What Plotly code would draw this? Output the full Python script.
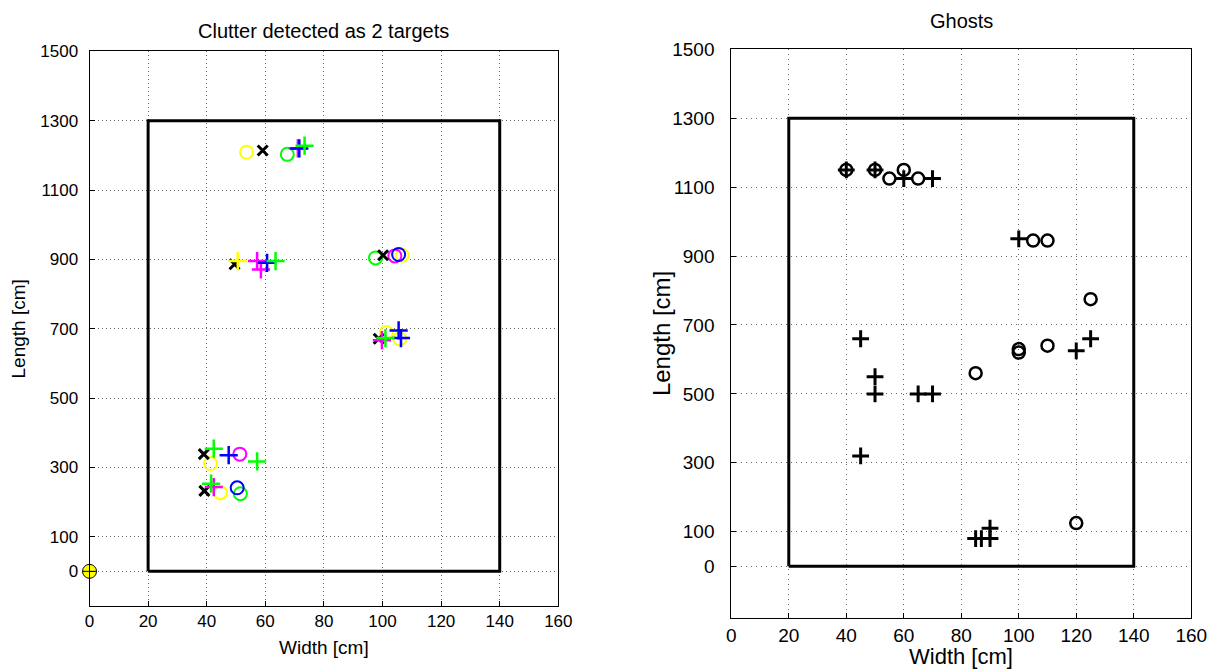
import plotly.graph_objects as go

# ---------------- Left chart data ----------------
rect_x = [20, 140, 140, 20, 20]
rect_y = [0, 0, 1300, 1300, 0]

yellow_o_x = [53.6, 41.3, 44.7, 101.3, 105.9, 106.7]
yellow_o_y = [1209, 311, 227, 689, 671, 912]
yellow_plus_x = [50.6]
yellow_plus_y = [895]
black_x_x = [59.1, 49.5, 100.2, 98.7, 39.0, 39.2]
black_x_y = [1214, 886, 912, 671, 338, 232]
green_o_x = [67.5, 97.6, 51.5]
green_o_y = [1203, 904, 224]
green_plus_x = [73.4, 63.5, 42.4, 57.2, 41.5, 101.0]
green_plus_y = [1228, 895, 354, 317, 253, 673]
magenta_plus_x = [71.1, 57.2, 58.5, 99.8, 42.4]
magenta_plus_y = [1220, 895, 871, 667, 243]
magenta_o_x = [104.2, 51.3]
magenta_o_y = [910, 338]
blue_plus_x = [71.6, 60.6, 47.5, 105.5, 106.3]
blue_plus_y = [1220, 890, 335, 695, 673]
blue_o_x = [105.5, 50.4]
blue_o_y = [914, 241]
origin_x = [0]
origin_y = [0]

left_xticks = [0, 20, 40, 60, 80, 100, 120, 140, 160]
left_yticks = [0, 100, 300, 500, 700, 900, 1100, 1300, 1500]

# ---------------- Right chart data ----------------
ghost_o_x = [40, 50, 55, 60, 65, 105, 110, 125, 100, 100, 110, 85, 120]
ghost_o_y = [1150, 1150, 1125, 1150, 1125, 945, 945, 775, 630, 620, 640, 560, 125]
ghost_plus_x = [40, 50, 60, 70, 100, 45, 50, 50, 65, 70, 45, 120, 125, 85, 87, 90, 90]
ghost_plus_y = [1150, 1150, 1125, 1125, 950, 660, 550, 500, 500, 500, 320, 625, 660, 80, 80, 80, 110]

right_xticks = [0, 20, 40, 60, 80, 100, 120, 140, 160]
right_yticks = [0, 100, 300, 500, 700, 900, 1100, 1300, 1500]

W, H = 1221, 672
FONT = "Liberation Sans, Arial, sans-serif"

fig = go.Figure()

def add(x, y, sym, color, size, lw, xa="x", ya="y", fill=None, clip=True):
    fig.add_trace(go.Scatter(
        x=x, y=y, mode="markers", xaxis=xa, yaxis=ya, showlegend=False,
        hoverinfo="skip", cliponaxis=clip,
        marker=dict(symbol=sym, size=size, color=fill if fill else color,
                    line=dict(color=color, width=lw))))

# Left rectangle
fig.add_trace(go.Scatter(x=rect_x, y=rect_y, mode="lines", xaxis="x", yaxis="y",
                         line=dict(color="black", width=3), showlegend=False, hoverinfo="skip"))
add(green_o_x, green_o_y, "circle-open", "#00ff00", 13, 2)
add(yellow_o_x, yellow_o_y, "circle-open", "#ffff00", 13, 2)
add(magenta_o_x, magenta_o_y, "circle-open", "#ff00ff", 13, 2)
add(blue_o_x, blue_o_y, "circle-open", "#0000ff", 13, 2)
add(black_x_x, black_x_y, "x-thin-open", "black", 10, 3)
add(yellow_plus_x, yellow_plus_y, "cross-thin-open", "#ffff00", 13, 2.5)
add(magenta_plus_x, magenta_plus_y, "cross-thin-open", "#ff00ff", 13, 2.5)
add(blue_plus_x, blue_plus_y, "cross-thin-open", "#0000ff", 13, 2.5)
add(green_plus_x, green_plus_y, "cross-thin-open", "#00ff00", 13, 2.5)
add(origin_x, origin_y, "circle-cross", "black", 14, 1, fill="#ffff00", clip=False)

# Right rectangle
fig.add_trace(go.Scatter(x=rect_x, y=rect_y, mode="lines", xaxis="x2", yaxis="y2",
                         line=dict(color="black", width=3), showlegend=False, hoverinfo="skip"))
add(ghost_o_x, ghost_o_y, "circle-open", "black", 12, 2.5, "x2", "y2")
add(ghost_plus_x, ghost_plus_y, "cross-thin-open", "black", 12, 3, "x2", "y2")

def ax_common(size, dash, standoff=0):
    return dict(showline=True, mirror=True, linecolor="black", linewidth=1,
                ticks="inside", ticklen=5, tickcolor="black",
                showgrid=True, gridcolor="#666666", griddash=dash, gridwidth=1,
                zeroline=False, ticklabelstandoff=standoff,
                tickfont=dict(family=FONT, size=size, color="black"))

lx0, lx1, ly0, ly1 = 86, 563, 42, 605
rx0, rx1, ry0, ry1 = 739, 1207, 40, 617

fig.update_layout(
    width=W, height=H, margin=dict(l=0, r=0, t=0, b=0),
    paper_bgcolor="white", plot_bgcolor="white",
    xaxis=dict(domain=[lx0 / W, lx1 / W], range=[0, 160], tickvals=left_xticks,
               anchor="y", **ax_common(17, "1px,3px")),
    yaxis=dict(domain=[1 - ly1 / H, 1 - ly0 / H], range=[-100, 1500], tickvals=left_yticks,
               anchor="x", **ax_common(17, "1px,3px", 7)),
    xaxis2=dict(domain=[rx0 / W, rx1 / W], range=[0, 160], tickvals=right_xticks,
                anchor="y2", **ax_common(19, "1px,4px")),
    yaxis2=dict(domain=[1 - ry1 / H, 1 - ry0 / H], range=[-150, 1500], tickvals=right_yticks,
                anchor="x2", **ax_common(19, "1px,4px", 12)),
)

annots = [
    dict(text="Clutter detected as 2 targets", x=(lx0 + lx1) / 2 / W, y=1 - 21 / H, size=20),
    dict(text="Width [cm]", x=(lx0 + lx1) / 2 / W, y=1 - 647 / H, size=19),
    dict(text="Length [cm]", x=14 / W, y=1 - (ly0 + ly1) / 2 / H, textangle=-90, size=19),
    dict(text="Ghosts", x=(rx0 + rx1) / 2 / W, y=1 - 11 / H, size=20),
    dict(text="Width [cm]", x=(rx0 + rx1) / 2 / W, y=1 - 656 / H, size=22),
    dict(text="Length [cm]", x=668 / W, y=1 - (ry0 + ry1) / 2 / H, textangle=-90, size=24),
]
for a in annots:
    size = a.pop("size")
    a.update(xref="paper", yref="paper", showarrow=False, xanchor="center", yanchor="middle",
             font=dict(family=FONT, size=size, color="black"))
    fig.add_annotation(**a)

fig.write_html("out.html")
